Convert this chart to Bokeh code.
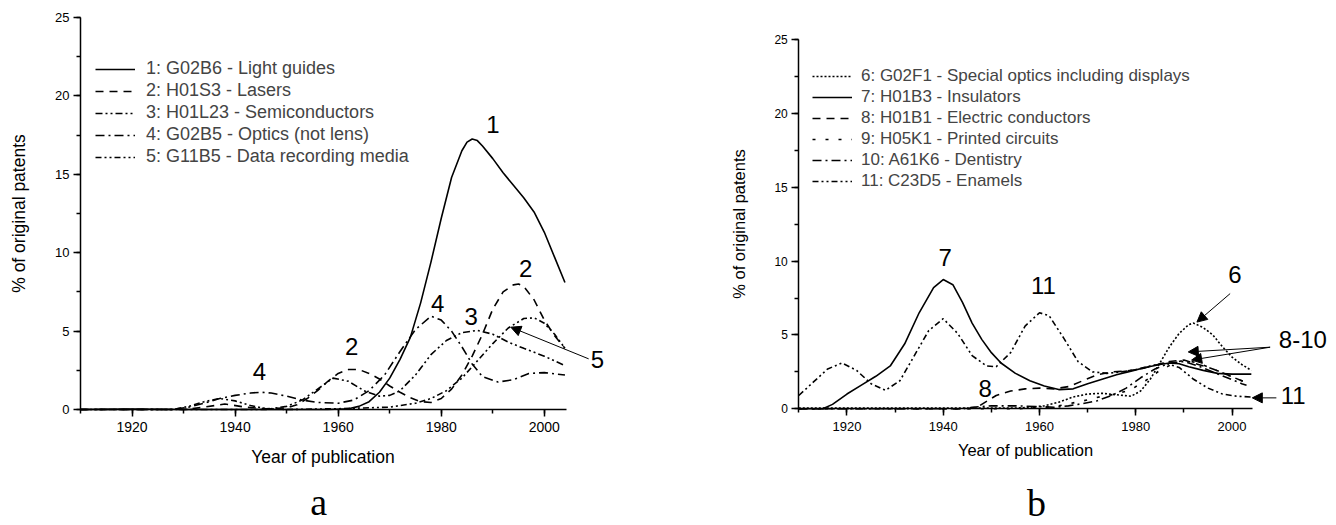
import math
from bokeh.plotting import figure
from bokeh.layouts import row
from bokeh.models import (Legend, LegendItem, Label, Arrow, NormalHead,
                          SingleIntervalTicker, Range1d)
from bokeh.embed import file_html
from bokeh.resources import INLINE

FONT = "Liberation Sans"
SERIF = "Liberation Serif"

# ---------------- Panel a data ----------------
a_names = ["1: G02B6 - Light guides", "2: H01S3 - Lasers", "3: H01L23 - Semiconductors",
           "4: G02B5 - Optics (not lens)", "5: G11B5 - Data recording media"]

a_years_1 = [1910, 1920, 1930, 1940, 1950, 1958, 1962, 1964, 1966, 1968, 1970, 1972, 1974, 1976,
             1978, 1980, 1982, 1984, 1985, 1986, 1987, 1988, 1990, 1992, 1994, 1996, 1998, 2000,
             2002, 2004]
a_vals_1 = [0, 0.03, 0, 0, 0, 0, 0.05, 0.2, 0.5, 1.1, 2.0, 3.2, 4.6, 6.8,
            9.4, 12.2, 14.8, 16.5, 17.05, 17.25, 17.15, 16.8, 16.0, 15.1, 14.3, 13.5, 12.6, 11.3,
            9.7, 8.1]

a_years_2 = [1910, 1930, 1934, 1938, 1942, 1946, 1950, 1952, 1954, 1956, 1958, 1960, 1962, 1964,
             1966, 1968, 1970, 1972, 1974, 1976, 1978, 1980, 1982, 1984, 1986, 1988, 1990, 1992,
             1994, 1995, 1996, 1998, 2000, 2002, 2004]
a_vals_2 = [0, 0, 0.15, 0.35, 0.15, 0.05, 0.1, 0.3, 0.7, 1.2, 1.8, 2.3, 2.55, 2.55,
            2.3, 1.95, 1.5, 1.1, 0.75, 0.5, 0.45, 0.7, 1.3, 2.2, 3.4, 4.8, 6.4, 7.5,
            7.95, 8.0, 7.85, 7.0, 5.7, 4.7, 3.9]

a_years_3 = [1910, 1946, 1950, 1953, 1956, 1959, 1962, 1965, 1968, 1970, 1972, 1975, 1978, 1981,
             1984, 1987, 1990, 1993, 1996, 2000, 2004]
a_vals_3 = [0, 0, 0.2, 0.6, 1.3, 2.0, 1.8, 1.2, 0.85, 0.9, 1.2, 2.2, 3.5, 4.4,
            4.9, 5.05, 4.8, 4.3, 3.9, 3.4, 2.8]

a_years_4 = [1910, 1928, 1931, 1934, 1937, 1940, 1943, 1945, 1947, 1950, 1953, 1956, 1960, 1963,
             1966, 1969, 1972, 1975, 1978, 1980, 1982, 1984, 1986, 1988, 1991, 1994, 1997, 2000,
             2004]
a_vals_4 = [0, 0, 0.15, 0.4, 0.7, 0.9, 1.05, 1.1, 1.05, 0.85, 0.6, 0.45, 0.4, 0.6,
            1.2, 2.2, 3.7, 5.1, 5.95, 5.7, 5.0, 4.0, 2.9, 2.1, 1.75, 1.9, 2.3, 2.35,
            2.2]

a_years_5 = [1910, 1928, 1931, 1934, 1937, 1940, 1943, 1946, 1950, 1960, 1965, 1970, 1975, 1978,
             1981, 1984, 1987, 1990, 1993, 1996, 1998, 2000, 2002, 2004]
a_vals_5 = [0, 0, 0.2, 0.5, 0.7, 0.55, 0.25, 0.05, 0, 0.05, 0.1, 0.15, 0.4, 0.7,
            1.2, 2.0, 3.1, 4.2, 5.2, 5.8, 5.85, 5.5, 4.8, 3.9]

# curve-number annotations (panel a)
a_label_text = ["1", "2", "4", "4", "3", "2", "5"]
a_label_x = [1990.0, 1962.6, 1944.7, 1979.3, 1985.8, 1996.4, 2010.3]
a_label_y = [18.2, 4.0, 2.4, 6.75, 5.9, 9.0, 3.2]
a_arrow = [(2008.6, 3.23, 1993.5, 5.25)]

# ---------------- Panel b data ----------------
b_names = ["6: G02F1 - Special optics including displays", "7: H01B3 - Insulators",
           "8: H01B1 - Electric conductors", "9: H05K1 - Printed circuits",
           "10: A61K6 - Dentistry", "11: C23D5 - Enamels"]

b_years_6 = [1910, 1955, 1958, 1961, 1964, 1967, 1970, 1973, 1976, 1979, 1981, 1983, 1985, 1987,
             1989, 1991, 1992, 1994, 1996, 1998, 2000, 2002, 2004]
b_vals_6 = [0.05, 0.05, 0.1, 0.2, 0.45, 0.8, 1.0, 1.05, 0.95, 0.85, 1.2, 2.0, 3.1, 4.2,
            5.1, 5.7, 5.8, 5.5, 5.0, 4.2, 3.5, 3.0, 2.6]

b_years_7 = [1910, 1915, 1917, 1920, 1923, 1926, 1929, 1932, 1935, 1938, 1940, 1942, 1944, 1946,
             1948, 1950, 1952, 1955, 1958, 1961, 1964, 1967, 1970, 1973, 1976, 1979, 1982, 1985,
             1987, 1989, 1991, 1994, 1997, 2000, 2004]
b_vals_7 = [0, 0, 0.3, 1.0, 1.6, 2.2, 2.9, 4.4, 6.5, 8.2, 8.75, 8.4, 7.2, 5.8,
            4.7, 3.8, 3.1, 2.4, 1.9, 1.55, 1.3, 1.35, 1.7, 2.0, 2.3, 2.55, 2.8, 3.0,
            3.1, 3.05, 2.85, 2.6, 2.4, 2.35, 2.35]

b_years_8 = [1910, 1945, 1947, 1949, 1951, 1954, 1957, 1960, 1963, 1966, 1969, 1972, 1975, 1978,
             1981, 1984, 1987, 1990, 1993, 1996, 1999, 2002, 2003]
b_vals_8 = [0, 0, 0.1, 0.5, 0.9, 1.2, 1.35, 1.4, 1.35, 1.5, 1.9, 2.3, 2.5, 2.55,
            2.7, 2.95, 3.2, 3.3, 3.0, 2.7, 2.3, 1.9, 1.75]

b_years_9 = [1910, 1955, 1958, 1961, 1964, 1967, 1970, 1973, 1976, 1979, 1982, 1985, 1988, 1990,
             1993, 1996, 1999, 2002, 2003]
b_vals_9 = [0, 0, 0.05, 0.1, 0.2, 0.4, 0.6, 0.85, 1.0, 1.3, 1.9, 2.6, 3.1, 3.3,
            3.1, 2.7, 2.3, 1.9, 1.8]

b_years_10 = [1910, 1944, 1946, 1950, 1955, 1960, 1963, 1966, 1969, 1972, 1975, 1978, 1981, 1984,
              1987, 1990, 1993, 1996, 1999, 2002, 2003]
b_vals_10 = [0, 0, 0.1, 0.2, 0.2, 0.15, 0.1, 0.2, 0.35, 0.55, 0.9, 1.4, 2.1, 2.7,
             3.1, 3.2, 2.9, 2.5, 2.1, 1.7, 1.6]

b_years_11 = [1910, 1913, 1916, 1919, 1922, 1925, 1928, 1931, 1934, 1937, 1940, 1943, 1946, 1949,
              1951, 1954, 1957, 1960, 1962, 1965, 1968, 1971, 1974, 1977, 1980, 1983, 1986, 1989,
              1992, 1995, 1998, 2001, 2004]
b_vals_11 = [0.9, 1.8, 2.7, 3.1, 2.6, 1.7, 1.25, 1.9, 3.6, 5.3, 6.1, 5.1, 3.6, 2.9,
             2.85, 3.8, 5.6, 6.5, 6.3, 4.8, 3.2, 2.5, 2.4, 2.5, 2.65, 2.9, 3.1, 2.8,
             2.0, 1.4, 1.0, 0.85, 0.8]

b_label_text = ["7", "11", "8", "6", "8-10", "11"]
b_label_x = [1940.4, 1960.8, 1948.7, 2000.6, 2014.7, 2012.7]
b_label_y = [10.26, 8.35, 1.35, 9.1, 4.7, 0.9]
b_arrows = [(1999.6, 7.8, 1992.7, 5.87),
            (2007.9, 4.17, 1990.9, 3.85),
            (2007.9, 4.17, 1991.6, 3.3),
            (2009.2, 0.74, 2004.2, 0.74)]

X_AXIS = (1910, 2004.3)
Y_AXIS = (0, 25)

# view windows (data coordinates covered by each whole canvas)
a_view_x = (1894.48, 2020.21)
a_view_y = (-7.398, 26.084)
b_view_x = (1878.78, 2021.69)
b_view_y = (-7.90, 27.64)

# centres of the titles (data coordinates)
a_xtitle_pos = (1957.05, -3.0)
a_ytitle_pos = (1898.0, 12.5)
a_letter_pos = (1956.2, -5.93)
b_xtitle_pos = (1957.09, -2.78)
b_ytitle_pos = (1897.6, 12.51)
b_letter_pos = (1959.4, -6.41)


def base_fig(width, height, vx, vy, xtick_size, ytick_size):
    p = figure(width=width, height=height, title=None,
               x_range=Range1d(*vx), y_range=Range1d(*vy),
               output_backend="svg", toolbar_location=None,
               min_border_left=0, min_border_right=0,
               min_border_top=0, min_border_bottom=0)
    p.outline_line_color = None
    p.grid.visible = False
    p.background_fill_color = "white"
    p.border_fill_color = "white"
    p.xaxis.ticker = SingleIntervalTicker(interval=20, num_minor_ticks=2)
    p.yaxis.ticker = SingleIntervalTicker(interval=5, num_minor_ticks=2)
    p.xaxis.bounds = X_AXIS
    p.yaxis.bounds = Y_AXIS
    p.xaxis.fixed_location = Y_AXIS[0]
    p.yaxis.fixed_location = X_AXIS[0]
    for ax in (p.xaxis[0], p.yaxis[0]):
        ax.axis_line_width = 1.5
        ax.axis_line_color = "black"
        ax.major_tick_line_width = 1.5
        ax.minor_tick_line_width = 1.5
        ax.major_tick_in = 0
        ax.major_tick_out = 7
        ax.minor_tick_in = 0
        ax.minor_tick_out = 4
        ax.major_label_text_font = FONT
        ax.major_label_text_color = "black"
    p.xaxis.major_label_text_font_size = xtick_size
    p.yaxis.major_label_text_font_size = ytick_size
    p.xaxis.major_label_standoff = 6
    p.yaxis.major_label_standoff = 4
    return p


def add_text(p, text, pos, size, font=FONT, angle=0.0):
    p.add_layout(Label(x=pos[0], y=pos[1], text=text, text_font=font, text_font_size=size,
                       angle=angle, text_align="center", text_baseline="middle",
                       text_color="black"))


def add_labels(p, texts, xs, ys, size):
    for t, x, y in zip(texts, xs, ys):
        add_text(p, t, (x, y), size)


def add_arrows(p, arrows):
    for x0, y0, x1, y1 in arrows:
        p.add_layout(Arrow(end=NormalHead(size=10, fill_color="black", line_color="black",
                                          line_width=1),
                           x_start=x0, y_start=y0, x_end=x1, y_end=y1,
                           line_width=1, line_color="black"))


LW = 1.6

# ---------------- Panel a ----------------
pa = base_fig(648, 525, a_view_x, a_view_y, "14px", "13px")
a_series = [(a_years_1, a_vals_1, "solid"),
            (a_years_2, a_vals_2, "8 6"),
            (a_years_3, a_vals_3, "7 3 2 3 2 3"),
            (a_years_4, a_vals_4, "9 4 2 4"),
            (a_years_5, a_vals_5, "6 3 2 3 2 3")]
a_items = []
for (xs, ys, dash), name in zip(a_series, a_names):
    r = pa.line(xs, ys, line_color="black", line_width=LW, line_dash=dash)
    a_items.append(LegendItem(label=name, renderers=[r]))

leg_a = Legend(items=a_items, location=(95, 358), padding=0, margin=0, spacing=1,
               glyph_width=40, glyph_height=20, label_height=20, label_standoff=11,
               label_text_font=FONT, label_text_font_size="18px",
               background_fill_alpha=0, border_line_color=None)
pa.add_layout(leg_a)
add_labels(pa, a_label_text, a_label_x, a_label_y, "24px")
add_arrows(pa, a_arrow)
add_text(pa, "Year of publication", a_xtitle_pos, "17.5px")
add_text(pa, "% of original patents", a_ytitle_pos, "17.5px", angle=math.pi / 2)
add_text(pa, "a", a_letter_pos, "38px", font=SERIF)

# ---------------- Panel b ----------------
pb = base_fig(688, 525, b_view_x, b_view_y, "13px", "12px")
b_series = [(b_years_6, b_vals_6, "2 2"),
            (b_years_7, b_vals_7, "solid"),
            (b_years_8, b_vals_8, "8 6"),
            (b_years_9, b_vals_9, "3 10"),
            (b_years_10, b_vals_10, "9 4 2 4"),
            (b_years_11, b_vals_11, "6 3 2 3 2 3")]
b_items = []
for (xs, ys, dash), name in zip(b_series, b_names):
    r = pb.line(xs, ys, line_color="black", line_width=LW, line_dash=dash)
    b_items.append(LegendItem(label=name, renderers=[r]))

leg_b = Legend(items=b_items, location=(164, 334), padding=0, margin=0, spacing=1,
               glyph_width=40, glyph_height=20, label_height=20, label_standoff=9,
               label_text_font=FONT, label_text_font_size="17px",
               background_fill_alpha=0, border_line_color=None)
pb.add_layout(leg_b)
add_labels(pb, b_label_text, b_label_x, b_label_y, "24px")
add_arrows(pb, b_arrows)
add_text(pb, "Year of publication", b_xtitle_pos, "16.5px")
add_text(pb, "% of original patents", b_ytitle_pos, "16.5px", angle=math.pi / 2)
add_text(pb, "b", b_letter_pos, "38px", font=SERIF)

layout = row(pa, pb, spacing=0)

with open("out.html", "w") as f:
    f.write(file_html(layout, INLINE))
